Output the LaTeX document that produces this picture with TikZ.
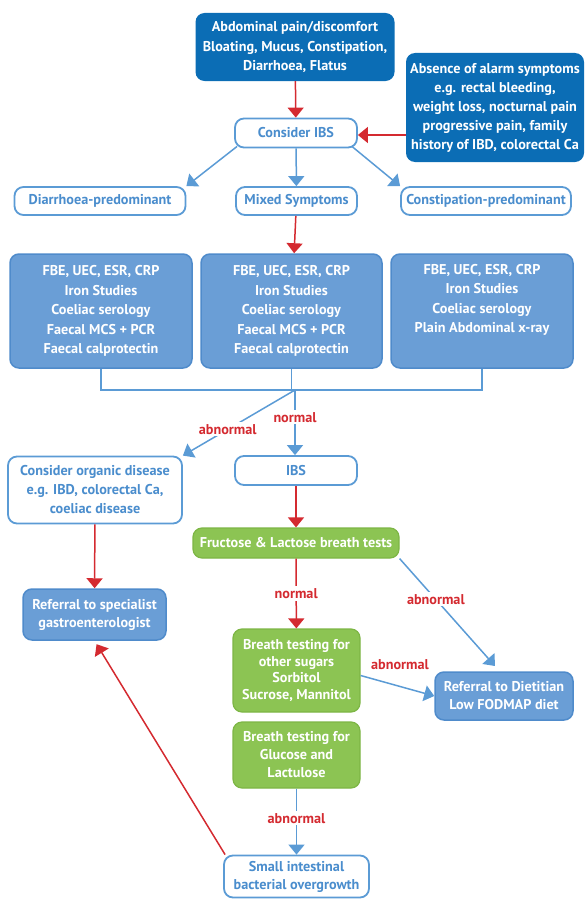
\documentclass[tikz,border=0pt]{standalone}
\usepackage{fontspec}
\setmainfont{PT Sans}
\usetikzlibrary{arrows.meta,calc}
\definecolor{dkblue}{HTML}{0B6DB5}
\definecolor{mdblue}{HTML}{6A9ED6}
\definecolor{mdborder}{HTML}{4F8BCB}
\definecolor{ltblue}{HTML}{5B9BD5}
\definecolor{txblue}{HTML}{4A8DCD}
\definecolor{rd}{HTML}{D42A30}
\definecolor{gr}{HTML}{8CC453}
\definecolor{grborder}{HTML}{7DB645}
\tikzset{
  box/.style={rectangle, rounded corners=9pt, align=center, inner sep=0pt,
    font=\bfseries\fontsize{14.2}{19.5}\selectfont},
  darkbox/.style={box, fill=dkblue, text=white},
  midbox/.style={box, fill=mdblue, draw=mdborder, line width=1.5pt, text=white},
  outbox/.style={box, fill=white, draw=ltblue, line width=1.8pt, text=txblue},
  grbox/.style={box, fill=gr, draw=grborder, line width=1.2pt, text=white},
  redarr/.style={draw=rd, line width=1.5pt, -{Triangle[width=16pt,length=10pt]}},
  bluarr/.style={draw=ltblue, line width=1.5pt, -{Triangle[width=16pt,length=10pt]}},
  bluline/.style={draw=ltblue, line width=1.5pt},
  redline/.style={draw=rd, line width=1.5pt},
  lbl/.style={fill=white, text=rd, inner sep=2pt, font=\bfseries\fontsize{14.2}{16}\selectfont},
}
\begin{document}
\begin{tikzpicture}[x=1pt,y=-1pt]
\useasboundingbox (0,0) rectangle (585,899);
% nodes
\node[darkbox, minimum width=199pt, minimum height=68pt] (top) at (295,47)
  {Abdominal pain/discomfort\\Bloating, Mucus, Constipation,\\Diarrhoea, Flatus};
\node[darkbox, minimum width=178pt, minimum height=109pt, font=\bfseries\fontsize{14.2}{19}\selectfont] (alarm) at (495,107.5)
  {Absence of alarm symptoms\\e.g. rectal bleeding,\\weight loss, nocturnal pain\\progressive pain, family\\history of IBD, colorectal Ca};
\node[outbox, minimum width=122pt, minimum height=29pt] (ibsA) at (296,133) {Consider IBS};
\node[outbox, minimum width=171pt, minimum height=28pt] (diar) at (100,201) {Diarrhoea-predominant};
\node[outbox, minimum width=121pt, minimum height=28pt] (mixed) at (296.5,201) {Mixed Symptoms};
\node[outbox, minimum width=170pt, minimum height=28pt] (const) at (486,201) {Constipation-predominant};
\node[midbox, minimum width=182pt, minimum height=114pt] (fbeA) at (101,311)
  {FBE, UEC, ESR, CRP\\Iron Studies\\Coeliac serology\\Faecal MCS + PCR\\Faecal calprotectin};
\node[midbox, minimum width=181pt, minimum height=114pt] (fbeB) at (291.5,311)
  {FBE, UEC, ESR, CRP\\Iron Studies\\Coeliac serology\\Faecal MCS + PCR\\Faecal calprotectin};
\node[midbox, minimum width=182pt, minimum height=114pt] (fbeC) at (482,311)
  {FBE, UEC, ESR, CRP\\Iron Studies\\Coeliac serology\\Plain Abdominal x-ray\\\strut};
\coordinate (j) at (295,390);
\node[outbox, minimum width=174pt, minimum height=67pt, font=\bfseries\fontsize{14.2}{19}\selectfont] (organic) at (95,490)
  {Consider organic disease\\e.g. IBD, colorectal Ca,\\coeliac disease};
\node[midbox, minimum width=143pt, minimum height=51pt, font=\bfseries\fontsize{14.2}{18}\selectfont] (refA) at (94.5,614.5)
  {Referral to specialist\\gastroenterologist};
\node[outbox, minimum width=122pt, minimum height=29pt] (ibsB) at (296,470.5) {IBS};
\node[grbox, minimum width=206pt, minimum height=30pt] (fruct) at (296,543) {Fructose \& Lactose breath tests};
\node[grbox, minimum width=127pt, minimum height=83pt, font=\bfseries\fontsize{14.2}{16.7}\selectfont] (brA) at (296.5,670.5)
  {Breath testing for\\other sugars\\Sorbitol\\Sucrose, Mannitol};
\node[midbox, minimum width=138pt, minimum height=48pt, font=\bfseries\fontsize{14.2}{18}\selectfont] (diet) at (504,696)
  {Referral to Dietitian\\Low FODMAP diet};
\node[grbox, minimum width=127pt, minimum height=66pt, font=\bfseries\fontsize{14.2}{18}\selectfont] (brB) at (296.5,755)
  {Breath testing for\\Glucose and\\Lactulose};
\node[outbox, minimum width=145pt, minimum height=42pt, font=\bfseries\fontsize{14.2}{18}\selectfont] (sibo) at (296.5,876.5)
  {Small intestinal\\bacterial overgrowth};
\coordinate (dietTop) at (495,666);
% connectors
\draw[redarr] (top) -- (ibsA);
\draw[redarr] ([yshift=-2pt]ibsA.east -| alarm.west) -- ([yshift=-2pt]ibsA.east);
\draw[bluarr] ($(ibsA.south west)+(3,-2)$) -- (diar.north east);
\draw[bluarr] (ibsA) -- (mixed);
\draw[bluarr] ($(ibsA.south east)+(-6,-2)$) -- (const.north west);
\draw[redarr] (mixed) -- (fbeB);
\draw[bluline] (fbeA.south) -- (fbeA.south |- j) -- (fbeC.south |- j) -- (fbeC.south);
\draw[bluline] (fbeB.south) -- (fbeB.south |- j);
\draw[bluarr] (j) -- (ibsB.north -| j) node[lbl, pos=0.42] {normal};
\draw[bluarr] (j) -- (organic.north east) node[lbl, pos=0.6] {abnormal};
\draw[redarr] (organic) -- (refA);
\draw[redarr] (ibsB) -- (fruct);
\draw[redarr] (fruct) -- (brA) node[lbl, midway] {normal};
\draw[bluarr] (fruct.south east) -- (dietTop) node[lbl, pos=0.38] {abnormal};
\draw[bluarr] ([yshift=-5pt]brA.east) -- (diet.west);
\node[lbl, fill=none] (lab4) at (400,665) {abnormal};
\draw[bluarr] (brB) -- (sibo) node[lbl, pos=0.45] {abnormal};
\draw[redarr, shorten >=4pt] ($(sibo.north west)+(2,0)$) -- (refA.south);
\end{tikzpicture}
\end{document}
